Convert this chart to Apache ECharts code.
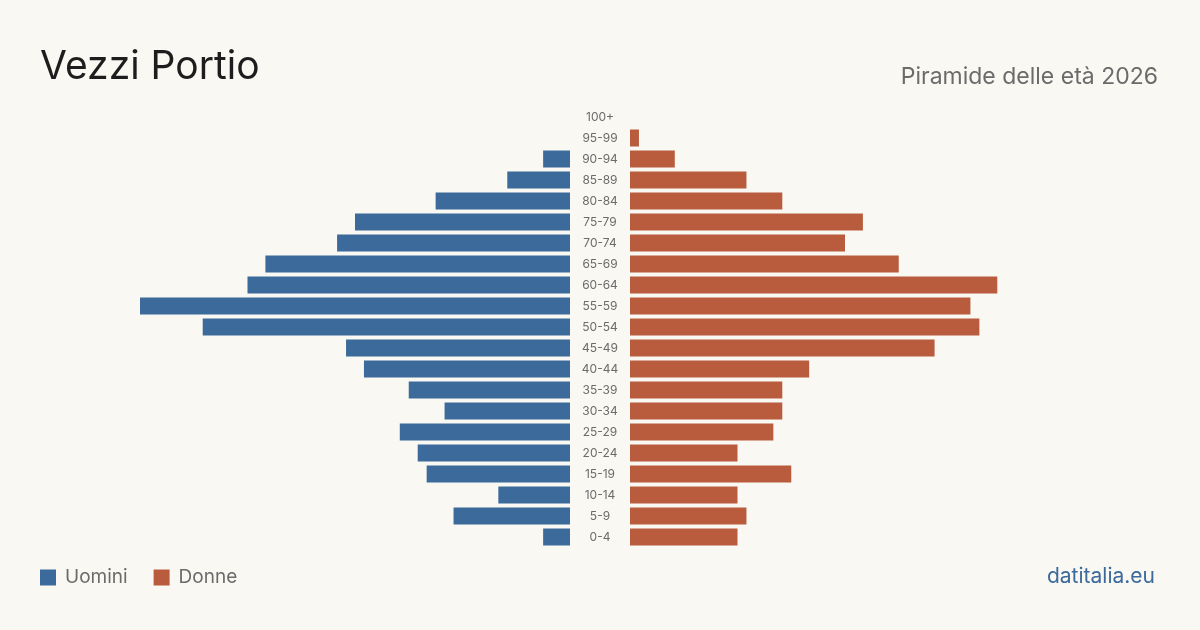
<!DOCTYPE html>
<html>
<head>
<meta charset="utf-8">
<script src="https://cdn.jsdelivr.net/npm/echarts@6/dist/echarts.min.js"></script>
<style>
  html, body { margin: 0; padding: 0; background: #f9f8f3; }
  #main { width: 1200px; height: 630px; }
</style>
</head>
<body>
<div id="main"></div>
<script>
// fasce d'età, dal basso verso l'alto
var classi = ['0-4', '5-9', '10-14', '15-19', '20-24', '25-29', '30-34', '35-39', '40-44', '45-49',
  '50-54', '55-59', '60-64', '65-69', '70-74', '75-79', '80-84', '85-89', '90-94', '95-99', '100+'];
var uomini = [3, 13, 8, 16, 17, 19, 14, 18, 23, 25, 41, 48, 36, 34, 26, 24, 15, 7, 3, 0, 0];
var donne = [12, 13, 12, 18, 12, 16, 17, 17, 20, 34, 39, 38, 41, 30, 24, 26, 17, 13, 5, 1, 0];

var blu = '#3b6a9b';
var rosso = '#b95c3d';
var font = 'Inter, "Noto Sans", sans-serif';
var maxVal = Math.max(Math.max.apply(null, uomini), Math.max.apply(null, donne));

var myChart = echarts.init(document.getElementById('main'));
myChart.setOption({
  backgroundColor: '#f9f8f3',
  animation: false,
  title: [
    { text: 'Vezzi Portio', left: 40, top: 48, padding: 0,
      textStyle: { fontFamily: font, fontSize: 39, fontWeight: 'normal', color: '#1d1d1d' } },
    { text: 'Piramide delle età 2026', right: 42, top: 66, padding: 0,
      textStyle: { fontFamily: font, fontSize: 23, fontWeight: 'normal', color: '#6b6b6b' } },
    { text: 'datitalia.eu', right: 45, top: 566, padding: 0,
      textStyle: { fontFamily: font, fontSize: 21, fontWeight: 'normal', color: '#3b6a9b' } }
  ],
  legend: {
    left: 40, top: 568, padding: 0,
    itemWidth: 16, itemHeight: 16, itemGap: 26,
    icon: 'rect',
    textStyle: { fontFamily: font, fontSize: 19, color: '#6b6b6b', padding: [0, 0, 0, 4] },
    data: ['Uomini', 'Donne']
  },
  grid: [
    { left: 140, width: 430, top: 106.5, height: 441 },
    { left: 630, width: 430, top: 106.5, height: 441 }
  ],
  xAxis: [
    { type: 'value', gridIndex: 0, inverse: true, min: 0, max: maxVal, show: false },
    { type: 'value', gridIndex: 1, min: 0, max: maxVal, show: false }
  ],
  yAxis: [
    { type: 'category', gridIndex: 0, data: classi, show: false },
    { type: 'category', gridIndex: 1, data: classi, position: 'left',
      axisLine: { show: false }, axisTick: { show: false },
      axisLabel: { align: 'center', margin: 30, fontFamily: font, fontSize: 12, color: '#6b6b6b' } }
  ],
  series: [
    { name: 'Uomini', type: 'bar', xAxisIndex: 0, yAxisIndex: 0, data: uomini,
      barWidth: 17, itemStyle: { color: blu } },
    { name: 'Donne', type: 'bar', xAxisIndex: 1, yAxisIndex: 1, data: donne,
      barWidth: 17, itemStyle: { color: rosso } }
  ]
});
</script>
</body>
</html>
